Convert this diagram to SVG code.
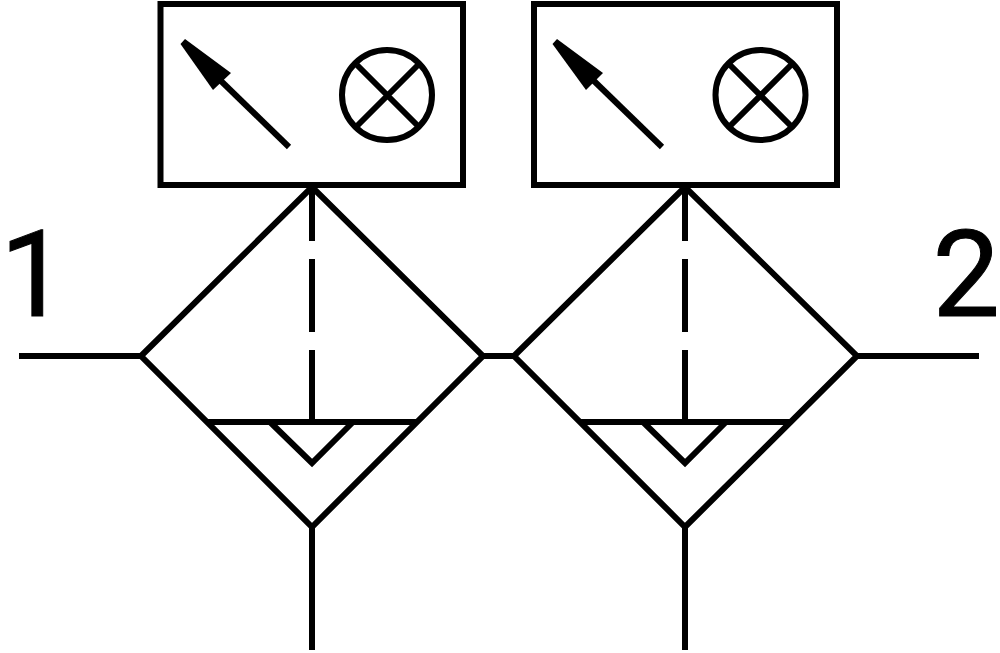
<svg xmlns="http://www.w3.org/2000/svg" width="1000" height="653" viewBox="0 0 1000 653">
<style>
.l{fill:none;stroke:#000;stroke-width:6;stroke-linecap:butt;stroke-linejoin:miter}
.h{fill:#000;stroke:none}
.t{font-family:Roboto,"Liberation Sans",Arial,sans-serif;font-size:120px;fill:#000;stroke:#000;stroke-width:1}
</style>
<rect width="1000" height="653" fill="#fff"/>
<g id="connectors">
<path class="l" d="M19 356H141M483 356H514M857 356H979M312 527V650M685 527V650"/>
</g>
<g id="unit-1">
<rect class="l" x="160.500" y="4" width="302.500" height="181"/>
<path class="h" d="M180.500 44L185 39L231 73L213 90Z"/>
<path class="l" d="M220 80L289 147"/>
<circle class="l" cx="387" cy="95" r="45"/>
<path class="l" d="M357 65L419 127M418 65L357 126"/>
<path class="l" d="M141 356L312 187L483 356L312 527Z"/>
<path class="l" d="M312 187V241M312 259V332M312 350V422"/>
<path class="l" d="M207 422H417M270 422L312 463L353 422"/>
</g>
<g id="unit-2">
<rect class="l" x="534" y="4" width="303" height="181"/>
<path class="h" d="M552.500 44L557 39L603 73L586 90Z"/>
<path class="l" d="M593 80L662 147"/>
<circle class="l" cx="760.500" cy="95" r="45"/>
<path class="l" d="M730 65L792 127M791 65L730 126"/>
<path class="l" d="M514 356L685 187L857 356L685 527Z"/>
<path class="l" d="M685 187V241M685 259V332M685 350V422"/>
<path class="l" d="M580 422H790M643 422L685 463L726 422"/>
</g>
<text class="t" x="0" y="316">1</text>
<text class="t" x="1000" y="316" text-anchor="end">2</text>
</svg>
